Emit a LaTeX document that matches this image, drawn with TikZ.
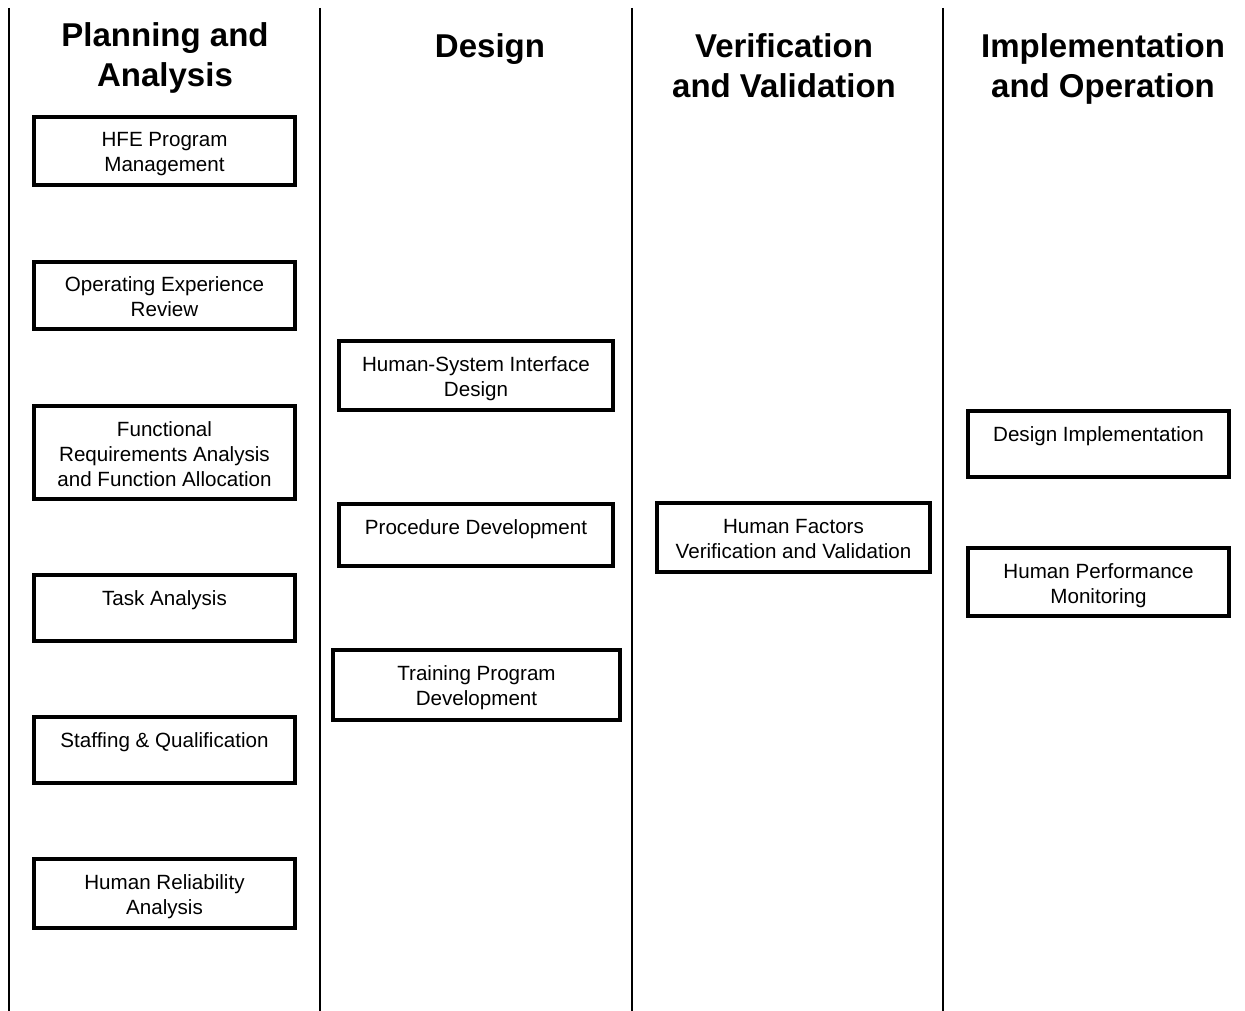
\documentclass[tikz,border=0pt]{standalone}
\usepackage{fontspec}
\setmainfont{Liberation Sans}
\newcommand\bxtext[3]{\parbox[c][#2pt][t]{#1pt}{\centering\rule{0pt}{28pt}#3\par}}
\begin{document}
\begin{tikzpicture}[x=1pt,y=-1pt,
  sep/.style={line width=2pt,black},
  phase/.style={font=\fontsize{33}{39.5}\selectfont\bfseries,align=center,inner sep=0pt,anchor=north},
  box/.style={draw,line width=4pt,inner sep=0pt,font=\fontsize{20.6}{25}\selectfont}]
\useasboundingbox (0,0) rectangle (1245,1011);
% column separators
\draw[sep] (9,8) -- (9,1011);
\draw[sep] (320,8) -- (320,1011);
\draw[sep] (632,8) -- (632,1011);
\draw[sep] (943,8) -- (943,1011);
% headers
\node[phase] (h1) at (165,16.5) {\rule{0pt}{30pt}Planning and\\Analysis};
\node[phase] (h2) at (490,27.5) {\rule{0pt}{30pt}Design};
\node[phase] (h3) at (784,27.5) {\rule{0pt}{30pt}Verification\\and Validation};
\node[phase] (h4) at (1103,27.5) {\rule{0pt}{30pt}Implementation\\and Operation};
% boxes
\node[box,minimum width=261pt,minimum height=68pt] (hfe) at (164.5,151) {\bxtext{257}{64}{HFE Program\\Management}};
\node[box,minimum width=261pt,minimum height=67pt] (oer) at (164.5,295.5) {\bxtext{257}{63}{Operating Experience\\Review}};
\node[box,minimum width=261pt,minimum height=93pt] (fra) at (164.5,452.5) {\bxtext{257}{89}{Functional\\Requirements Analysis\\and Function Allocation}};
\node[box,minimum width=261pt,minimum height=66pt] (ta) at (164.5,608) {\bxtext{257}{62}{Task Analysis}};
\node[box,minimum width=261pt,minimum height=66pt] (sq) at (164.5,750) {\bxtext{257}{62}{Staffing \& Qualification}};
\node[box,minimum width=261pt,minimum height=69pt] (hra) at (164.5,893.5) {\bxtext{257}{65}{Human Reliability\\Analysis}};
\node[box,minimum width=274pt,minimum height=69pt] (hsi) at (476,375.5) {\bxtext{270}{65}{Human-System Interface\\Design}};
\node[box,minimum width=274pt,minimum height=62pt] (pd) at (476,535) {\bxtext{270}{58}{Procedure Development}};
\node[box,minimum width=287pt,minimum height=70pt] (tpd) at (476.5,685) {\bxtext{283}{66}{Training Program\\Development}};
\node[box,minimum width=273pt,minimum height=69pt] (hfvv) at (793.5,537.5) {\bxtext{269}{65}{Human Factors\\Verification and Validation}};
\node[box,minimum width=261pt,minimum height=66pt] (di) at (1098.5,444) {\bxtext{257}{62}{Design Implementation}};
\node[box,minimum width=261pt,minimum height=68pt] (hpm) at (1098.5,582) {\bxtext{257}{64}{Human Performance\\Monitoring}};
\end{tikzpicture}
\end{document}
